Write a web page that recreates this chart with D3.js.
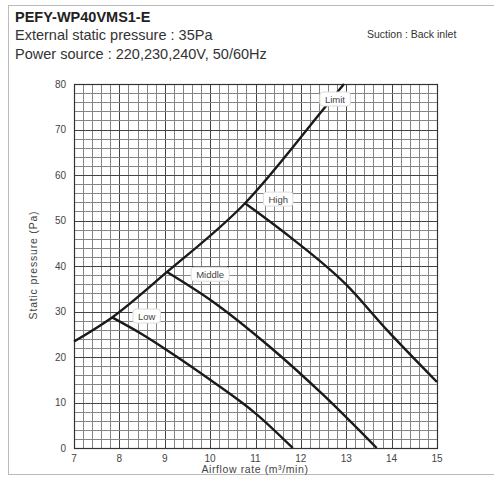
<!DOCTYPE html>
<html><head><meta charset="utf-8">
<script src="https://cdn.jsdelivr.net/npm/d3@7"></script>
<style>body{margin:0;background:#fff;}svg{display:block;font-family:"Liberation Sans",Arial,sans-serif;}</style>
</head><body>
<svg id="c" width="494" height="480"></svg>
<script>
// ---- data ----
const xTicks = [7, 8, 9, 10, 11, 12, 13, 14, 15];
const yTicks = [0, 10, 20, 30, 40, 50, 60, 70, 80];
const limitX = [7.0, 7.84, 9.05, 10.77, 12.5, 12.95];
const limitY = [23.4, 28.7, 38.7, 53.8, 74.5, 80.0];
const lowX = [7.84, 8.5, 9.05, 10.0, 11.0, 11.82];
const lowY = [28.7, 25.0, 21.5, 15.0, 7.6, 0];
const midX = [9.05, 10.0, 11.32, 12.5, 13.67];
const midY = [38.7, 32.6, 22.2, 11.6, 0];
const highX = [10.77, 11.76, 13.0, 13.9, 15.0];
const highY = [53.8, 46.4, 35.9, 25.9, 14.5];
const curveLabels = ["Limit", "High", "Middle", "Low"];
const labelX = [12.75, 11.5, 10.0, 8.6];
const labelY = [76.7, 54.7, 38.2, 29.0];
const titleLines = ["PEFY-WP40VMS1-E", "External static pressure : 35Pa", "Power source : 220,230,240V, 50/60Hz"];
const noteText = "Suction : Back inlet";
const xLabel = "Airflow rate (m\u00B3/min)";
const yLabel = "Static pressure (Pa)";

const svg = d3.select("#c");
// outer frame
svg.append("rect").attr("x", 8.5).attr("y", 5.5).attr("width", 490).attr("height", 469)
  .attr("fill", "none").attr("stroke", "#bbb").attr("stroke-width", 1);

// titles
svg.append("text").attr("x", 15).attr("y", 22).attr("font-size", 14.5).attr("font-weight", "bold").attr("fill", "#222").text(titleLines[0]);
svg.append("text").attr("x", 15).attr("y", 40).attr("font-size", 14.5).attr("fill", "#333").text(titleLines[1]);
svg.append("text").attr("x", 15).attr("y", 59).attr("font-size", 14.5).attr("fill", "#333").text(titleLines[2]);
svg.append("text").attr("x", 367).attr("y", 38).attr("font-size", 10.5).attr("fill", "#333").text(noteText);

const m = {l: 74, r: 437, t: 84, b: 448};
const x = d3.scaleLinear().domain([7, 15]).range([m.l, m.r]);
const y = d3.scaleLinear().domain([0, 80]).range([m.b, m.t]);

const g = svg.append("g");
// grid
const xMinor = d3.range(70, 151, 2).map(v => v / 10);
const yMinor = d3.range(0, 81, 2);
g.selectAll(".vx").data(xMinor).join("line")
  .attr("x1", d => Math.round(x(d)) + 0.5).attr("x2", d => Math.round(x(d)) + 0.5)
  .attr("y1", y(0)).attr("y2", y(80))
  .attr("stroke", d => Number.isInteger(Math.round(d * 10) / 10) ? "#444" : "#858585").attr("stroke-width", 1);
g.selectAll(".hy").data(yMinor).join("line")
  .attr("y1", d => Math.round(y(d)) + 0.5).attr("y2", d => Math.round(y(d)) + 0.5)
  .attr("x1", x(7)).attr("x2", x(15))
  .attr("stroke", d => d % 10 === 0 ? "#444" : "#858585").attr("stroke-width", 1);
g.append("rect").attr("x", x(7) + 0.5).attr("y", y(80) + 0.5).attr("width", x(15) - x(7)).attr("height", y(0) - y(80))
  .attr("fill", "none").attr("stroke", "#333").attr("stroke-width", 1.2);

// axes labels
svg.append("g").selectAll("text").data(xTicks).join("text")
  .attr("x", d => x(d)).attr("y", 462).attr("text-anchor", "middle").attr("font-size", 10).attr("fill", "#444").text(d => d);
svg.append("g").selectAll("text").data(yTicks).join("text")
  .attr("x", 66).attr("y", d => y(d) + 3.5).attr("text-anchor", "end").attr("font-size", 10).attr("fill", "#444").text(d => d);
svg.append("text").attr("x", 255).attr("y", 473).attr("text-anchor", "middle").attr("font-size", 10.5)
  .attr("letter-spacing", 0.6).attr("fill", "#444").text(xLabel);
svg.append("text").attr("transform", "translate(37,265) rotate(-90)").attr("text-anchor", "middle").attr("font-size", 10.5)
  .attr("letter-spacing", 0.8).attr("fill", "#444").text(yLabel);

// curves
const line = d3.line().x(d => x(d[0])).y(d => y(d[1])).curve(d3.curveMonotoneX);
const series = [[limitX, limitY], [highX, highY], [midX, midY], [lowX, lowY]];
series.forEach(([xs, ys]) => {
  svg.append("path").datum(xs.map((v, i) => [v, ys[i]])).attr("d", line)
    .attr("fill", "none").attr("stroke", "#1a1a1a").attr("stroke-width", 2.4);
});

// curve labels
curveLabels.forEach((t, i) => {
  const lg = svg.append("g");
  const tx = lg.append("text").attr("x", x(labelX[i])).attr("y", y(labelY[i]) + 3.5)
    .attr("text-anchor", "middle").attr("font-size", 9.5).attr("fill", "#444").text(t);
  const bb = tx.node().getBBox();
  lg.insert("rect", "text").attr("x", bb.x - 5).attr("y", bb.y - 1.5).attr("width", bb.width + 10).attr("height", bb.height + 3)
    .attr("rx", 3).attr("fill", "#fff").attr("stroke", "#ddd");
});
</script>
</body></html>
